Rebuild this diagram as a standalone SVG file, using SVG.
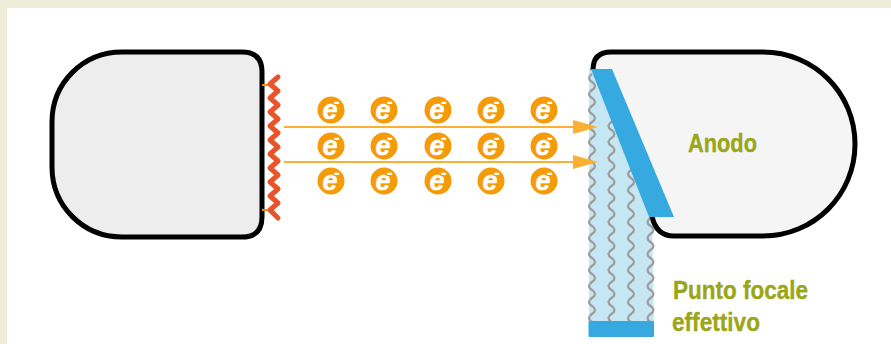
<svg xmlns="http://www.w3.org/2000/svg" width="891" height="344" viewBox="0 0 891 344">
<style>
.body{stroke:#000;stroke-width:5}
.wave{fill:none;stroke:#9d9d9d;stroke-width:2.3}
.arrow{fill:none;stroke:#fbb034;stroke-width:2.2}
.head{fill:#fbb034}
.stub{stroke:#f39200;stroke-width:2}
.bar{fill:#36a9e0}
.label{font-family:"Liberation Sans Narrow","Liberation Sans",Arial,sans-serif;font-weight:700;font-size:26px;fill:#9aa617;stroke:#9aa617;stroke-width:.35}
.e{font-family:"Liberation Sans",Arial,sans-serif;font-weight:700;fill:#fff}
</style>
<defs>
<g id="electron">
<circle r="13.5" fill="#f59a08"/>
<text class="e" x="-1" y="9" font-size="27" font-style="italic" text-anchor="middle" stroke="#fff" stroke-width=".5">e</text>
<text class="e" x="5.800" y="-1.700" font-size="18" text-anchor="middle" stroke="#f59a08" stroke-width="2" paint-order="stroke">-</text>
</g>
</defs>
<rect width="891" height="344" fill="#fff"/>
<path d="M0 0H891V8H7V344H0Z" fill="#ededd8"/>
<g id="cathode">
<path class="body" fill="#ecedec" d="M122 52H242Q262 52 262 72V217Q262 237 242 237H122C83 237 52 206 52 167V122C52 83 83 52 122 52Z"/>
<path class="stub" d="M262 85H270M262 210H270"/>
<path fill="none" stroke="#e9552a" stroke-width="5" stroke-linecap="round" stroke-linejoin="round" d="M278 77L270 84L278 91L270 98L278 105L270 112L278 119L270 126L278 133L270 140L278 147L270 154L278 161L270 168L278 175L270 182L278 189L270 196L278 203L270 210L278 218"/>
</g>
<g id="focal-beam">
<path fill="#c5e6f3" d="M589 69H592L652 217L654 322H589Z"/>
<path class="wave" d="M592 74q-6 4 0 8t0 8t0 8t0 8t0 8t0 8t0 8t0 8t0 8t0 8t0 8t0 8t0 8t0 8t0 8t0 8t0 8t0 8t0 8t0 8t0 8t0 8t0 8t0 8t0 8t0 8t0 8t0 8t0 8t0 8t0 8"/>
<path class="wave" d="M611.500 106q-6 4 0 8t0 8t0 8t0 8t0 8t0 8t0 8t0 8t0 8t0 8t0 8t0 8t0 8t0 8t0 8t0 8t0 8t0 8t0 8t0 8t0 8t0 8t0 8t0 8t0 8t0 8t0 8"/>
<path class="wave" d="M631 154q-6 4 0 8t0 8t0 8t0 8t0 8t0 8t0 8t0 8t0 8t0 8t0 8t0 8t0 8t0 8t0 8t0 8t0 8t0 8t0 8t0 8t0 8"/>
<path class="wave" d="M650.500 202q-6 4 0 8t0 8t0 8t0 8t0 8t0 8t0 8t0 8t0 8t0 8t0 8t0 8t0 8t0 8t0 8"/>
</g>
<g id="anode">
<path class="body" fill="#f5f5f5" d="M593 69V70Q593 52 611 52H763C814 52 855 93 855 144C855 195 814 236 763 236H674Q656 236 652 216"/>
</g>
<g id="targets">
<path class="bar" d="M591 69H612L674 217H649Z"/>
<rect class="bar" x="588.500" y="321" width="65.500" height="16" rx="1"/>
</g>
<g id="connectors">
<path class="arrow" d="M284 127H575M284 162H575"/>
<path class="head" d="M573 120L598 127L573 134ZM573 155L598 162L573 169Z"/>
</g>
<g id="electrons">
<use href="#electron" x="331" y="110"/><use href="#electron" x="384" y="110"/><use href="#electron" x="438" y="110"/><use href="#electron" x="491" y="110"/><use href="#electron" x="544" y="110"/>
<use href="#electron" x="331" y="146"/><use href="#electron" x="384" y="146"/><use href="#electron" x="438" y="146"/><use href="#electron" x="491" y="146"/><use href="#electron" x="544" y="146"/>
<use href="#electron" x="331" y="181"/><use href="#electron" x="384" y="181"/><use href="#electron" x="438" y="181"/><use href="#electron" x="491" y="181"/><use href="#electron" x="544" y="181"/>
</g>
<g id="labels">
<text class="label" x="688" y="152" textLength="69" lengthAdjust="spacingAndGlyphs">Anodo</text>
<text class="label" x="673" y="299" textLength="135" lengthAdjust="spacingAndGlyphs">Punto focale</text>
<text class="label" x="672" y="331" textLength="88" lengthAdjust="spacingAndGlyphs">effettivo</text>
</g>
</svg>
